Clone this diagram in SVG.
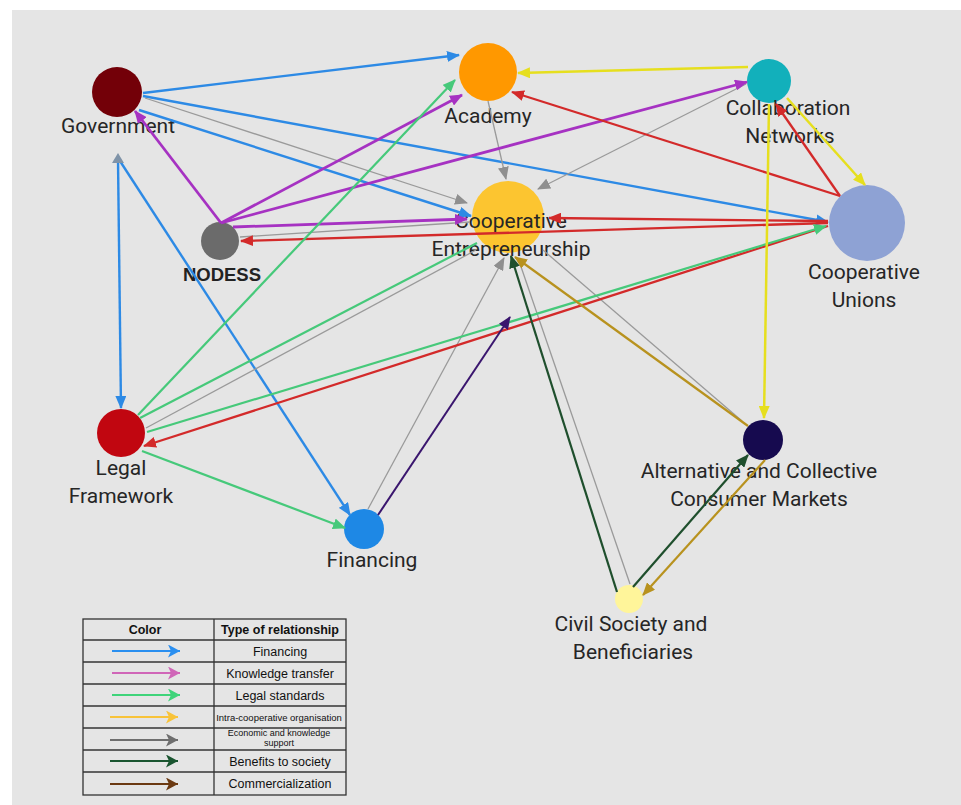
<svg xmlns="http://www.w3.org/2000/svg" width="961" height="805" viewBox="0 0 961 805">
  <style>
    .lbl { font-family: Roboto, "Liberation Sans", sans-serif; font-size: 21px; fill: #262626; text-anchor: middle; }
    .bold { font-family: "Liberation Sans", Arial, sans-serif; font-weight: bold; font-size: 18.5px; fill: #222; text-anchor: middle; }
    .e { fill: none; stroke-linecap: butt; }
    .blue { stroke: #2d8ae5; stroke-width: 2.4; }
    .gray { stroke: #9a9a9a; stroke-width: 1.3; }
    .purple { stroke: #a632c2; stroke-width: 2.8; }
    .red { stroke: #d32a2a; stroke-width: 2.3; }
    .green { stroke: #46c97a; stroke-width: 2.2; }
    .yellow { stroke: #e6df1e; stroke-width: 2.5; }
    .dgreen { stroke: #1f4f2d; stroke-width: 2.2; }
    .gold { stroke: #b8921e; stroke-width: 2.2; }
    .dpurple { stroke: #3a166e; stroke-width: 2; }
    .tbl { fill: none; stroke: #333; stroke-width: 1.3; }
    .th { font-family: "Liberation Sans", Arial, sans-serif; font-weight: bold; font-size: 12.5px; fill: #111; text-anchor: middle; }
    .td { font-family: "Liberation Sans", Arial, sans-serif; font-size: 12.5px; fill: #111; text-anchor: middle; }
    .tds { font-family: "Liberation Sans", Arial, sans-serif; font-size: 9.5px; fill: #111; text-anchor: middle; }
    .tdx { font-family: "Liberation Sans", Arial, sans-serif; font-size: 9px; fill: #111; text-anchor: middle; }
  </style>
  <defs>
    <marker id="m-blue" viewBox="0 0 13 11" refX="12" refY="5.5" markerWidth="13" markerHeight="11" markerUnits="userSpaceOnUse" orient="auto"><path d="M0,0 L13,5.5 L0,11 z" fill="#2d8ae5"/></marker>
    <marker id="m-gray" viewBox="0 0 13 11" refX="12" refY="5.5" markerWidth="13" markerHeight="11" markerUnits="userSpaceOnUse" orient="auto"><path d="M0,0 L13,5.5 L0,11 z" fill="#8f8f8f"/></marker>
    <marker id="m-purple" viewBox="0 0 13 11" refX="12" refY="5.5" markerWidth="13" markerHeight="11" markerUnits="userSpaceOnUse" orient="auto"><path d="M0,0 L13,5.5 L0,11 z" fill="#a632c2"/></marker>
    <marker id="m-red" viewBox="0 0 13 11" refX="12" refY="5.5" markerWidth="13" markerHeight="11" markerUnits="userSpaceOnUse" orient="auto"><path d="M0,0 L13,5.5 L0,11 z" fill="#d32a2a"/></marker>
    <marker id="m-green" viewBox="0 0 13 11" refX="12" refY="5.5" markerWidth="13" markerHeight="11" markerUnits="userSpaceOnUse" orient="auto"><path d="M0,0 L13,5.5 L0,11 z" fill="#46c97a"/></marker>
    <marker id="m-yellow" viewBox="0 0 13 11" refX="12" refY="5.5" markerWidth="13" markerHeight="11" markerUnits="userSpaceOnUse" orient="auto"><path d="M0,0 L13,5.5 L0,11 z" fill="#e6df1e"/></marker>
    <marker id="m-dgreen" viewBox="0 0 13 11" refX="12" refY="5.5" markerWidth="13" markerHeight="11" markerUnits="userSpaceOnUse" orient="auto"><path d="M0,0 L13,5.5 L0,11 z" fill="#1f4f2d"/></marker>
    <marker id="m-gold" viewBox="0 0 13 11" refX="12" refY="5.5" markerWidth="13" markerHeight="11" markerUnits="userSpaceOnUse" orient="auto"><path d="M0,0 L13,5.5 L0,11 z" fill="#b8921e"/></marker>
    <marker id="m-dpurple" viewBox="0 0 13 11" refX="12" refY="5.5" markerWidth="13" markerHeight="11" markerUnits="userSpaceOnUse" orient="auto"><path d="M0,0 L13,5.5 L0,11 z" fill="#3a166e"/></marker>
    <!-- legend arrowheads -->
    <marker id="k-blue" viewBox="0 0 12 13" refX="12" refY="6.5" markerWidth="12" markerHeight="13" markerUnits="userSpaceOnUse" orient="auto"><path d="M0,0 L12,6.5 L0,13 L3,6.5 z" fill="#2a8ff0"/></marker>
    <marker id="k-pink" viewBox="0 0 12 13" refX="12" refY="6.5" markerWidth="12" markerHeight="13" markerUnits="userSpaceOnUse" orient="auto"><path d="M0,0 L12,6.5 L0,13 L3,6.5 z" fill="#d066b8"/></marker>
    <marker id="k-green" viewBox="0 0 12 13" refX="12" refY="6.5" markerWidth="12" markerHeight="13" markerUnits="userSpaceOnUse" orient="auto"><path d="M0,0 L12,6.5 L0,13 L3,6.5 z" fill="#3fd47a"/></marker>
    <marker id="k-yellow" viewBox="0 0 12 13" refX="12" refY="6.5" markerWidth="12" markerHeight="13" markerUnits="userSpaceOnUse" orient="auto"><path d="M0,0 L12,6.5 L0,13 L3,6.5 z" fill="#f8c33a"/></marker>
    <marker id="k-gray" viewBox="0 0 12 13" refX="12" refY="6.5" markerWidth="12" markerHeight="13" markerUnits="userSpaceOnUse" orient="auto"><path d="M0,0 L12,6.5 L0,13 L3,6.5 z" fill="#6e6e6e"/></marker>
    <marker id="k-dgreen" viewBox="0 0 12 13" refX="12" refY="6.5" markerWidth="12" markerHeight="13" markerUnits="userSpaceOnUse" orient="auto"><path d="M0,0 L12,6.5 L0,13 L3,6.5 z" fill="#1a5530"/></marker>
    <marker id="k-brown" viewBox="0 0 12 13" refX="12" refY="6.5" markerWidth="12" markerHeight="13" markerUnits="userSpaceOnUse" orient="auto"><path d="M0,0 L12,6.5 L0,13 L3,6.5 z" fill="#6b3a12"/></marker>
  </defs>

  <rect x="0" y="0" width="961" height="805" fill="#ffffff"/>
  <rect x="12" y="10" width="949" height="795" fill="#e5e5e5"/>

  <!-- nodes -->
  <g id="government">
    <circle cx="117" cy="92" r="25" fill="#730008"/>
    <text class="lbl" x="118" y="133">Government</text>
  </g>
  <g id="academy">
    <circle cx="488" cy="72" r="29" fill="#ff9800"/>
    <text class="lbl" x="488" y="123">Academy</text>
  </g>
  <g id="collaboration-networks">
    <circle cx="769" cy="81" r="22" fill="#12b0bb"/>
    <text class="lbl" x="788" y="115">Collaboration</text>
    <text class="lbl" x="790" y="143">Networks</text>
  </g>
  <g id="cooperative-entrepreneurship">
    <circle cx="508" cy="217" r="36" fill="#fcc530"/>
    <text class="lbl" x="511" y="228">Cooperative</text>
    <text class="lbl" x="511" y="256">Entrepreneurship</text>
  </g>
  <g id="cooperative-unions">
    <circle cx="867" cy="223" r="38" fill="#8ea2d4"/>
    <text class="lbl" x="864" y="279">Cooperative</text>
    <text class="lbl" x="864" y="307">Unions</text>
  </g>
  <g id="nodess">
    <circle cx="220" cy="241" r="19" fill="#6b6b6b"/>
    <text class="bold" x="222" y="281">NODESS</text>
  </g>
  <g id="legal-framework">
    <circle cx="121" cy="433" r="24" fill="#c10610"/>
    <text class="lbl" x="121" y="475">Legal</text>
    <text class="lbl" x="121" y="503">Framework</text>
  </g>
  <g id="financing">
    <circle cx="364" cy="529" r="20" fill="#1e88e5"/>
    <text class="lbl" x="372" y="567">Financing</text>
  </g>
  <g id="alternative-markets">
    <circle cx="763" cy="440" r="20" fill="#160a4f"/>
    <text class="lbl" x="759" y="478">Alternative and Collective</text>
    <text class="lbl" x="759" y="506">Consumer Markets</text>
  </g>
  <g id="civil-society">
    <circle cx="629" cy="599" r="14" fill="#fff59a"/>
    <text class="lbl" x="631" y="631">Civil Society and</text>
    <text class="lbl" x="633" y="659">Beneficiaries</text>
  </g>

  <!-- connectors -->
  <g id="connectors">
    <!-- financing -->
    <line class="e blue" x1="143" y1="93" x2="459" y2="55" marker-end="url(#m-blue)"/>
    <line class="e blue" x1="143" y1="96" x2="828" y2="222" marker-end="url(#m-blue)"/>
    <line class="e blue" x1="139" y1="110" x2="471" y2="216" marker-end="url(#m-blue)"/>
    <line class="e blue" x1="118" y1="160" x2="121" y2="408" marker-end="url(#m-blue)"/>
    <line class="e blue" x1="118" y1="158" x2="350" y2="515" marker-end="url(#m-blue)"/>
    <path d="M118,153 L124,163 L112,163 z" fill="#7f93a8"/>
    <!-- economic and knowledge support -->
    <line class="e gray" x1="145" y1="98" x2="467" y2="203" marker-end="url(#m-gray)"/>
    <line class="e gray" x1="488" y1="101" x2="506" y2="179" marker-end="url(#m-gray)"/>
    <line class="e gray" x1="746" y1="84" x2="538" y2="189" marker-end="url(#m-gray)"/>
    <line class="e gray" x1="240" y1="237" x2="470" y2="222"/>
    <line class="e gray" x1="146" y1="428" x2="476" y2="250"/>
    <line class="e gray" x1="368" y1="509" x2="504" y2="258" marker-end="url(#m-gray)"/>
    <line class="e gray" x1="630" y1="584" x2="518" y2="258"/>
    <line class="e gray" x1="742" y1="421" x2="543" y2="250"/>
    <!-- knowledge transfer -->
    <line class="e purple" x1="221" y1="223" x2="135" y2="111" marker-end="url(#m-purple)"/>
    <line class="e purple" x1="221" y1="223" x2="462" y2="95" marker-end="url(#m-purple)"/>
    <line class="e purple" x1="221" y1="223" x2="747" y2="82" marker-end="url(#m-purple)"/>
    <line class="e purple" x1="233" y1="227" x2="467" y2="219" marker-end="url(#m-purple)"/>
    <!-- from cooperative unions -->
    <line class="e red" x1="828" y1="223" x2="241" y2="241" marker-end="url(#m-red)"/>
    <line class="e red" x1="828" y1="221" x2="549" y2="218" marker-end="url(#m-red)"/>
    <line class="e red" x1="840" y1="196" x2="512" y2="92" marker-end="url(#m-red)"/>
    <line class="e red" x1="840" y1="196" x2="776" y2="104" marker-end="url(#m-red)"/>
    <line class="e red" x1="828" y1="226" x2="144" y2="446" marker-end="url(#m-red)"/>
    <!-- legal standards -->
    <line class="e green" x1="138" y1="415" x2="455" y2="80" marker-end="url(#m-green)"/>
    <line class="e green" x1="140" y1="418" x2="477" y2="243"/>
    <line class="e green" x1="147" y1="432" x2="826" y2="226" marker-end="url(#m-green)"/>
    <line class="e green" x1="142" y1="451" x2="345" y2="528" marker-end="url(#m-green)"/>
    <!-- intra-cooperative organisation -->
    <line class="e yellow" x1="748" y1="67" x2="518" y2="73" marker-end="url(#m-yellow)"/>
    <line class="e yellow" x1="787" y1="98" x2="865" y2="185" marker-end="url(#m-yellow)"/>
    <line class="e yellow" x1="769" y1="104" x2="764" y2="418" marker-end="url(#m-yellow)"/>
    <!-- benefits to society -->
    <line class="e dgreen" x1="617" y1="592" x2="511" y2="256" marker-end="url(#m-dgreen)"/>
    <line class="e dgreen" x1="633" y1="587" x2="748" y2="455" marker-end="url(#m-dgreen)"/>
    <!-- commercialization -->
    <line class="e gold" x1="748" y1="426" x2="515" y2="257" marker-end="url(#m-gold)"/>
    <line class="e gold" x1="765" y1="460" x2="643" y2="595" marker-end="url(#m-gold)"/>
    <line class="e dpurple" x1="378" y1="515" x2="510" y2="317" marker-end="url(#m-dpurple)"/>
  </g>

  <!-- legend -->
  <g id="legend">
    <rect class="tbl" x="83" y="619" width="263" height="176"/>
    <line class="tbl" x1="214" y1="619" x2="214" y2="795"/>
    <line class="tbl" x1="83" y1="640" x2="346" y2="640"/>
    <line class="tbl" x1="83" y1="662" x2="346" y2="662"/>
    <line class="tbl" x1="83" y1="684" x2="346" y2="684"/>
    <line class="tbl" x1="83" y1="706" x2="346" y2="706"/>
    <line class="tbl" x1="83" y1="728" x2="346" y2="728"/>
    <line class="tbl" x1="83" y1="750" x2="346" y2="750"/>
    <line class="tbl" x1="83" y1="772" x2="346" y2="772"/>
    <text class="th" x="145" y="634">Color</text>
    <text class="th" x="280" y="634">Type of relationship</text>
    <line x1="112" y1="651" x2="180" y2="651" stroke="#2a8ff0" stroke-width="2" marker-end="url(#k-blue)"/>
    <line x1="112" y1="673" x2="180" y2="673" stroke="#d066b8" stroke-width="2" marker-end="url(#k-pink)"/>
    <line x1="112" y1="695" x2="180" y2="695" stroke="#3fd47a" stroke-width="2" marker-end="url(#k-green)"/>
    <line x1="110" y1="717" x2="178" y2="717" stroke="#f8c33a" stroke-width="2" marker-end="url(#k-yellow)"/>
    <line x1="110" y1="740" x2="178" y2="740" stroke="#6e6e6e" stroke-width="2" marker-end="url(#k-gray)"/>
    <line x1="110" y1="761" x2="178" y2="761" stroke="#1a5530" stroke-width="2" marker-end="url(#k-dgreen)"/>
    <line x1="110" y1="784" x2="178" y2="784" stroke="#6b3a12" stroke-width="2" marker-end="url(#k-brown)"/>
    <text class="td" x="280" y="656">Financing</text>
    <text class="td" x="280" y="678">Knowledge transfer</text>
    <text class="td" x="280" y="700">Legal standards</text>
    <text class="tds" x="279" y="721">Intra-cooperative organisation</text>
    <text class="tdx" x="279" y="736">Economic and knowledge</text>
    <text class="tdx" x="279" y="746">support</text>
    <text class="td" x="280" y="766">Benefits to society</text>
    <text class="td" x="280" y="788">Commercialization</text>
  </g>
</svg>
